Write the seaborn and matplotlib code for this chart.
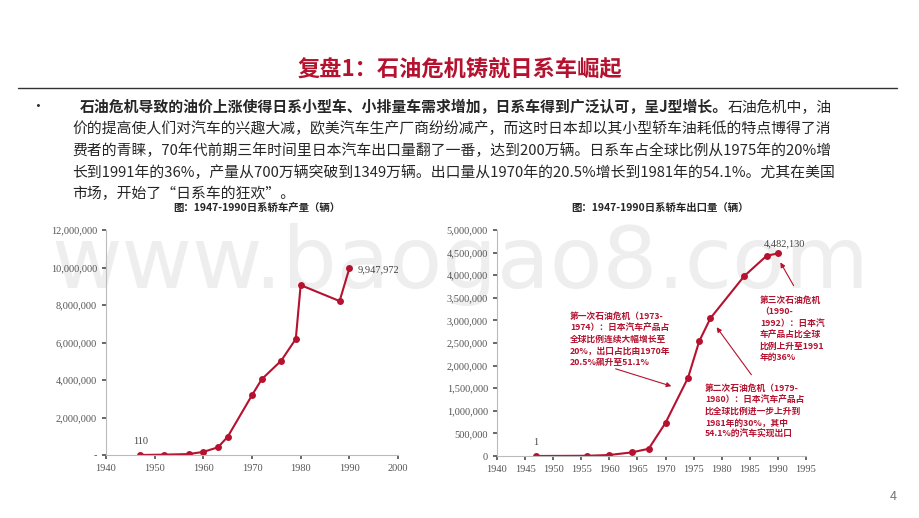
import matplotlib
matplotlib.use('Agg')
import matplotlib.pyplot as plt
from matplotlib.text import Annotation
from matplotlib.patches import FancyArrowPatch
import seaborn as sns
import pandas as pd
from matplotlib.ticker import FuncFormatter

# production (left chart)
prod_years = [1947, 1952, 1957, 1960, 1963, 1965, 1970, 1972, 1976, 1979, 1980, 1988, 1990]
prod_values = [110, 20000, 50000, 165000, 410000, 970000, 3190000, 4040000, 5030000,
               6190000, 9060000, 8210000, 9947972]

# exports (right chart)
exp_years = [1947, 1956, 1960, 1964, 1967, 1970, 1974, 1976, 1978, 1984, 1988, 1990]
exp_values = [1, 5000, 22000, 80000, 160000, 735000, 1730000, 2540000, 3050000,
              3980000, 4430000, 4482130]

RED = '#B5122F'
sns.set_theme(style='white')
plt.rcParams['font.family'] = ['Noto Sans CJK SC', 'DejaVu Sans']

fig = plt.figure(figsize=(9.2, 5.18), dpi=100)
W, H = 920, 518


def fx(px):
    return px / W


def fy(py):
    return 1 - py / H


# watermark, kept behind the charts
fig.text(0.5, fy(265), 'www.baogao8.com', fontsize=62, color='#eeeeee',
         ha='center', va='center', family='DejaVu Sans', zorder=-5)

# header
fig.text(0.5, fy(70), '复盘1：石油危机铸就日系车崛起', color=RED, fontsize=16,
         fontweight='bold', ha='center', va='center')
fig.add_artist(plt.Line2D([fx(18), fx(897)], [fy(88), fy(88)], color='#333333', lw=1))

fs = 10.7
fig.text(fx(30), fy(107), '•', fontsize=fs, va='center')
t1 = fig.text(fx(80), fy(107), '石油危机导致的油价上涨使得日系小型车、小排量车需求增加，日系车得到广泛认可，呈J型增长。',
              fontsize=fs, fontweight='bold', va='center')
fig.add_artist(Annotation('石油危机中，油', xy=(1, 0.5), xycoords=t1, va='center', fontsize=fs))
body = ['价的提高使人们对汽车的兴趣大减，欧美汽车生产厂商纷纷减产，而这时日本却以其小型轿车油耗低的特点博得了消',
        '费者的青睐，70年代前期三年时间里日本汽车出口量翻了一番，达到200万辆。日系车占全球比例从1975年的20%增',
        '长到1991年的36%，产量从700万辆突破到1349万辆。出口量从1970年的20.5%增长到1981年的54.1%。尤其在美国',
        '市场，开始了“日系车的狂欢”。']
for i, line in enumerate(body):
    fig.text(fx(72), fy(129 + 21.7 * i), line, fontsize=fs, va='center')

fig.text(fx(893), fy(496), '4', fontsize=9, color='#777777', ha='center', va='center')

serif = 'Liberation Serif'


def style_axis(ax):
    sns.despine(ax=ax, top=True, right=True)
    for s in ['left', 'bottom']:
        ax.spines[s].set_color('#bbbbbb')
        ax.spines[s].set_linewidth(0.8)
    ax.tick_params(axis='both', labelsize=7.5, colors='#555555', length=3, direction='out',
                   bottom=True, left=True)
    for lab in ax.get_xticklabels() + ax.get_yticklabels():
        lab.set_family(serif)
    ax.set_xlabel('')
    ax.set_ylabel('')
    ax.patch.set_alpha(0)


# left chart
ax1 = fig.add_axes([fx(106), fy(455), fx(292), 225 / H])
df1 = pd.DataFrame({'year': prod_years, 'value': prod_values})
sns.lineplot(data=df1, x='year', y='value', ax=ax1, color=RED, lw=1.5, marker='o',
             markersize=5, markeredgewidth=0)
ax1.set_xlim(1940, 2000)
ax1.set_ylim(0, 12000000)
ax1.set_xticks(range(1940, 2001, 10))
ax1.set_yticks(range(0, 12000001, 2000000))
ax1.yaxis.set_major_formatter(FuncFormatter(lambda v, p: '-' if v == 0 else f'{int(v):,}'))
style_axis(ax1)
ax1.annotate('110', (prod_years[0], prod_values[0]), xytext=(-5, 8), textcoords='offset points',
             fontsize=7.5, family=serif, color='#444444')
ax1.annotate(f'{prod_values[-1]:,}', (prod_years[-1], prod_values[-1]), xytext=(6, -3),
             textcoords='offset points', fontsize=7.5, family=serif, color='#444444')
fig.text(fx(257), fy(208), '图：1947-1990日系轿车产量（辆）', fontsize=7.5, fontweight='bold',
         ha='center', va='center')

# right chart
ax2 = fig.add_axes([fx(497), fy(456), fx(309), 226 / H])
df2 = pd.DataFrame({'year': exp_years, 'value': exp_values})
sns.lineplot(data=df2, x='year', y='value', ax=ax2, color=RED, lw=1.5, marker='o',
             markersize=5, markeredgewidth=0)
ax2.set_xlim(1940, 1995)
ax2.set_ylim(0, 5000000)
ax2.set_xticks(range(1940, 1996, 5))
ax2.set_yticks(range(0, 5000001, 500000))
ax2.yaxis.set_major_formatter(FuncFormatter(lambda v, p: f'{int(v):,}'))
style_axis(ax2)
ax2.annotate('1', (exp_years[0], exp_values[0]), xytext=(-2, 8), textcoords='offset points',
             fontsize=7.5, family=serif, color='#444444')
ax2.annotate(f'{exp_values[-1]:,}', (exp_years[-1], exp_values[-1]), xytext=(-10, 5),
             textcoords='offset points', fontsize=7.5, family=serif, color='#444444')
fig.text(fx(660), fy(208), '图：1947-1990日系轿车出口量（辆）', fontsize=7.5, fontweight='bold',
         ha='center', va='center')

notes = [
    ('第一次石油危机（1973-\n1974）：日本汽车产品占\n全球比例连续大幅增长至\n20%，出口占比由1970年\n20.5%飙升至51.1%',
     (570, 312), (613, 368), (674, 387)),
    ('第二次石油危机（1979-\n1980）：日本汽车产品占\n比全球比例进一步上升到\n1981年的30%，其中\n54.1%的汽车实现出口',
     (705, 384), (753, 377), (715, 325)),
    ('第三次石油危机\n（1990-\n1992）：日本汽\n车产品占比全球\n比例上升至1991\n年的36%',
     (760, 296), (795, 288), (779, 260)),
]
for txt, (tx, ty), (ax_, ay_), (bx, by) in notes:
    fig.text(fx(tx), fy(ty), txt, fontsize=6.3, fontweight='bold', color=RED,
             va='top', ha='left', linespacing=1.35)
    fig.add_artist(FancyArrowPatch(
        (fx(ax_), fy(ay_)), (fx(bx), fy(by)), transform=fig.transFigure,
        arrowstyle='-|>', mutation_scale=7, color=RED, lw=0.8))

fig.savefig('out.png', dpi=100)
